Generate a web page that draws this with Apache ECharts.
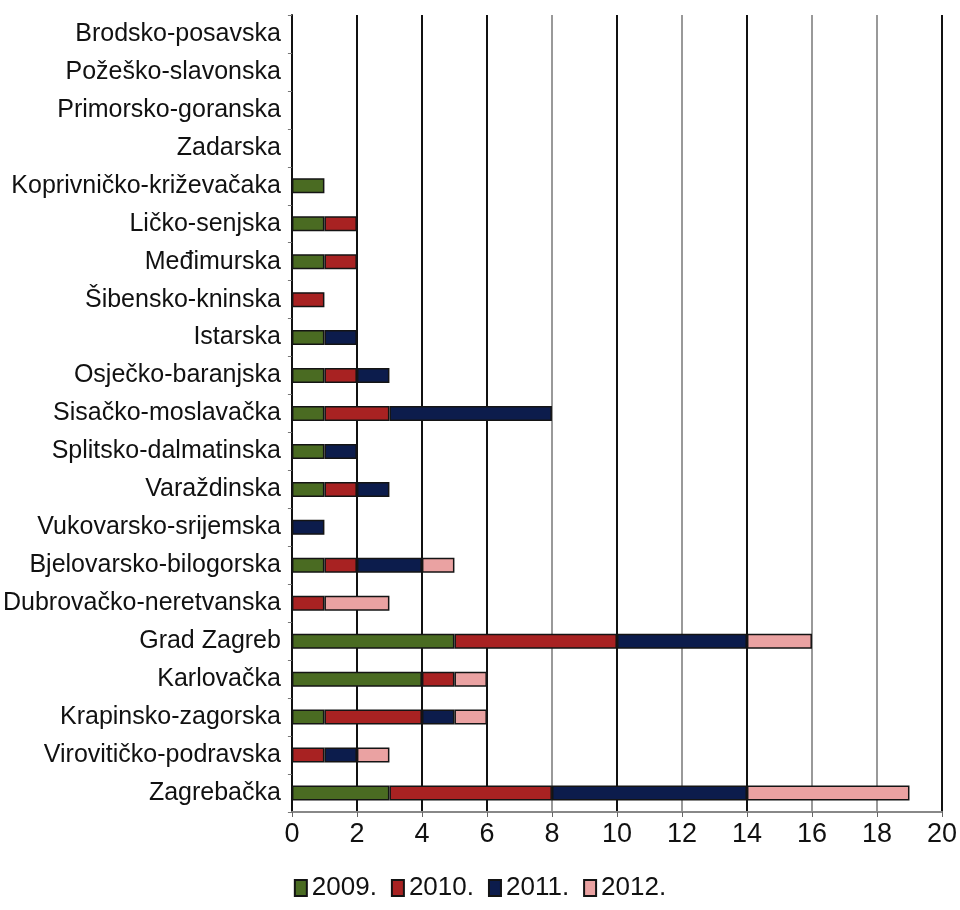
<!DOCTYPE html>
<html>
<head>
<meta charset="utf-8">
<script src="https://cdn.jsdelivr.net/npm/echarts@6/dist/echarts.min.js"></script>
<style>
    html, body { margin: 0; padding: 0; background: #fff; }
    #chart { width: 960px; height: 910px; }
</style>
</head>
<body>
<div id="chart"></div>
<script>
    // zupanije, odozgo prema dolje
    var categories = ['Brodsko-posavska', 'Požeško-slavonska', 'Primorsko-goranska', 'Zadarska',
        'Koprivničko-križevačaka', 'Ličko-senjska', 'Međimurska', 'Šibensko-kninska', 'Istarska',
        'Osječko-baranjska', 'Sisačko-moslavačka', 'Splitsko-dalmatinska', 'Varaždinska',
        'Vukovarsko-srijemska', 'Bjelovarsko-bilogorska', 'Dubrovačko-neretvanska', 'Grad Zagreb',
        'Karlovačka', 'Krapinsko-zagorska', 'Virovitičko-podravska', 'Zagrebačka'];
    var years = ['2009.', '2010.', '2011.', '2012.'];
    var v2009 = [0, 0, 0, 0, 1, 1, 1, 0, 1, 1, 1, 1, 1, 0, 1, 0, 5, 4, 1, 0, 3];
    var v2010 = [0, 0, 0, 0, 0, 1, 1, 1, 0, 1, 2, 0, 1, 0, 1, 1, 5, 1, 3, 1, 5];
    var v2011 = [0, 0, 0, 0, 0, 0, 0, 0, 1, 1, 5, 1, 1, 1, 2, 0, 4, 0, 1, 1, 6];
    var v2012 = [0, 0, 0, 0, 0, 0, 0, 0, 0, 0, 0, 0, 0, 0, 1, 2, 2, 1, 1, 1, 5];
    var xTicks = [0, 2, 4, 6, 8, 10, 12, 14, 16, 18, 20];

    var colors = ['#4a6b22', '#a82222', '#0c1c4c', '#eaa2a2'];
    var font = "'Liberation Sans Narrow', 'Liberation Sans', Arial, sans-serif";
    var gridColors = ['#222', '#111', '#111', '#111', '#999', '#111', '#999', '#111', '#999', '#999', '#111'];

    var myChart = echarts.init(document.getElementById('chart'));
    var values = [v2009, v2010, v2011, v2012];
    var series = years.map(function (y, i) {
        return {
            name: y,
            type: 'bar',
            stack: 'total',
            barWidth: 15,
            itemStyle: { color: colors[i], borderColor: '#141414', borderWidth: 1.5 },
            data: values[i].map(function (v) { return v === 0 ? '-' : v; })
        };
    });

    myChart.setOption({
        animation: false,
        textStyle: { fontFamily: font },
        color: colors,
        legend: {
            data: years,
            bottom: 4,
            left: 'center',
            itemWidth: 12,
            itemHeight: 16,
            itemGap: 14,
            icon: 'rect',
            textStyle: { fontSize: 26, color: '#111', fontFamily: font }
        },
        grid: { left: 287, right: 13, top: 15, bottom: 98 },
        xAxis: {
            type: 'value',
            min: 0,
            max: 20,
            interval: 2,
            axisLine: { show: true, lineStyle: { color: '#888', width: 2 } },
            axisTick: { show: true, length: 5, lineStyle: { color: '#666' } },
            axisLabel: {
                fontSize: 27, color: '#111', margin: 9, fontFamily: font,
                formatter: function (v) { return xTicks.indexOf(v) >= 0 ? String(v) : ''; }
            },
            splitLine: { show: true, lineStyle: { color: gridColors, width: 2 } }
        },
        yAxis: {
            type: 'category',
            inverse: true,
            data: categories,
            axisLine: { show: true, lineStyle: { color: '#111', width: 2 } },
            axisTick: { show: true, length: 4, inside: false, lineStyle: { color: '#777' } },
            axisLabel: { fontSize: 25, color: '#111', margin: 11, fontFamily: font }
        },
        series: series
    });
</script>
</body>
</html>
